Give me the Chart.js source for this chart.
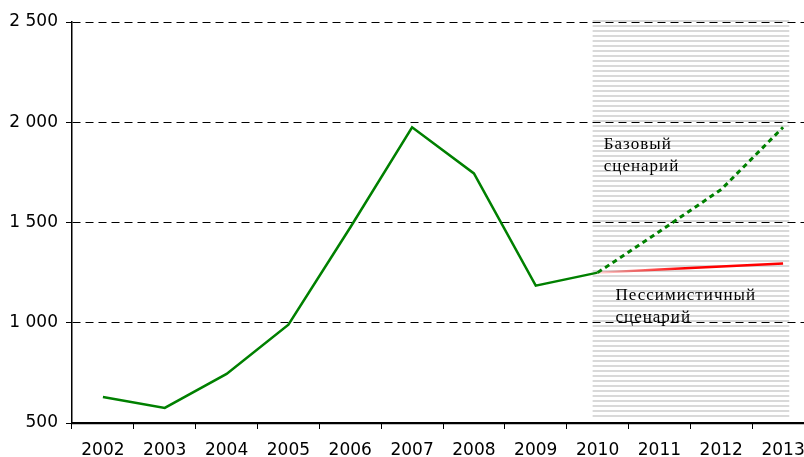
<!DOCTYPE html>
<html>
<head>
<meta charset="utf-8">
<script src="https://cdn.jsdelivr.net/npm/chart.js@4.4.0/dist/chart.umd.min.js"></script>
<style>
  html, body { margin: 0; padding: 0; background: #fff; overflow: hidden; }
  #wrap { width: 820px; height: 457px; }
</style>
</head>
<body>
<div id="wrap"><canvas id="chart"></canvas></div>
<script>
const years = ["2002", "2003", "2004", "2005", "2006", "2007", "2008", "2009", "2010", "2011", "2012", "2013"];
const actual = [630, 575, 745, 990, 1475, 1975, 1745, 1185, 1250, null, null, null];
const baseScenario = [null, null, null, null, null, null, null, null, 1250, 1455, 1665, 1975];
const pessimisticScenario = [null, null, null, null, null, null, null, null, 1250, 1265, 1280, 1295];
const yMin = 500;
const yMax = 2500;
const yStep = 500;
const forecastStart = 8; // 2010
const baseNote = ["Базовый", "сценарий"];
const pessimisticNote = ["Пессимистичный", "сценарий"];

const fmt = (v) => String(v).replace(/\B(?=(\d{3})+(?!\d))/g, " ");

// striped background behind the forecast years
const forecastShade = {
  id: "forecastShade",
  beforeDraw(chart) {
    const { ctx, chartArea, scales } = chart;
    const x = scales.x;
    const step = x.getPixelForValue(1) - x.getPixelForValue(0);
    const left = x.getPixelForValue(forecastStart) - 0.08 * step;
    const right = x.getPixelForValue(years.length - 1) + 0.1 * step;
    ctx.save();
    ctx.fillStyle = "#d9d9d9";
    for (let yy = chartArea.top - 2; yy < chartArea.bottom - 3; yy += 5) {
      ctx.fillRect(left, yy, right - left, 2);
    }
    ctx.restore();
  },
};

const scenarioNotes = {
  id: "scenarioNotes",
  afterDatasetsDraw(chart) {
    const { ctx, scales, chartArea } = chart;
    const x = scales.x;
    const y = scales.y;
    const step = x.getPixelForValue(1) - x.getPixelForValue(0);
    const x0 = x.getPixelForValue(forecastStart);
    ctx.save();
    // solid baseline along the category axis
    const by = Math.round(y.getPixelForValue(yMin)) + 0.5;
    ctx.strokeStyle = "#000";
    ctx.lineWidth = 1.5;
    ctx.beginPath();
    ctx.moveTo(chartArea.left, by);
    ctx.lineTo(chartArea.right, by);
    ctx.stroke();

    ctx.font = '17px "Liberation Serif"';
    ctx.letterSpacing = "1px";
    ctx.fillStyle = "#000";
    ctx.textAlign = "left";
    ctx.textBaseline = "alphabetic";
    ctx.fillText(baseNote[0], x0 + 0.1 * step, y.getPixelForValue(1865));
    ctx.fillText(baseNote[1], x0 + 0.1 * step, y.getPixelForValue(1755));
    ctx.fillText(pessimisticNote[0], x0 + 0.29 * step, y.getPixelForValue(1115));
    ctx.fillText(pessimisticNote[1], x0 + 0.29 * step, y.getPixelForValue(1005));
    ctx.restore();
  },
};

const redFade = (context) => {
  const chart = context.chart;
  if (!chart.chartArea) return "#ff0000";
  const x = chart.scales.x;
  const g = chart.ctx.createLinearGradient(
    x.getPixelForValue(forecastStart), 0, x.getPixelForValue(forecastStart + 1.4), 0
  );
  g.addColorStop(0, "rgba(255,0,0,0.15)");
  g.addColorStop(1, "#ff0000");
  return g;
};

const tickFont = { family: "DejaVu Sans", size: 17 };

new Chart(document.getElementById("chart"), {
  type: "line",
  data: {
    labels: years,
    datasets: [
      {
        label: "Базовый сценарий",
        data: baseScenario,
        borderColor: "#008000",
        borderWidth: 3,
        borderDash: [5, 4],
        pointRadius: 0,
      },
      {
        label: "Пессимистичный сценарий",
        data: pessimisticScenario,
        borderColor: redFade,
        borderWidth: 2.5,
        pointRadius: 0,
      },
      {
        label: "Факт",
        data: actual,
        borderColor: "#008000",
        borderWidth: 2.5,
        pointRadius: 0,
      },
    ],
  },
  options: {
    responsive: true,
    maintainAspectRatio: false,
    animation: false,
    layout: { padding: { top: 22, right: 6, left: 0, bottom: 0 } },
    plugins: {
      legend: { display: false },
      tooltip: { enabled: false },
    },
    scales: {
      x: {
        offset: true,
        grid: {
          offset: true,
          drawOnChartArea: false,
          color: "#000",
          tickLength: 6,
        },
        border: { color: "#000", width: 1.5 },
        ticks: {
          color: "#000",
          font: tickFont,
          padding: 11,
          maxRotation: 0,
          autoSkip: false,
        },
        afterFit(scale) {
          scale.height = 34;
        },
      },
      y: {
        min: yMin,
        max: yMax,
        grid: {
          color: "#000",
          tickColor: "#000",
          tickLength: 6,
        },
        border: { color: "#000", width: 1.5, dash: [8, 5] },
        ticks: {
          stepSize: yStep,
          color: "#000",
          font: tickFont,
          padding: 8,
          callback: (v) => fmt(v),
        },
        afterFit(scale) {
          scale.width = 72;
        },
      },
    },
  },
  plugins: [forecastShade, scenarioNotes],
});
</script>
</body>
</html>
